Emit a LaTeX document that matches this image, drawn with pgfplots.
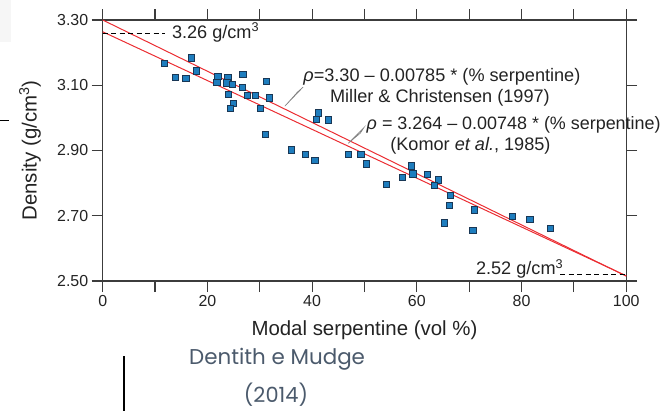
\documentclass[border=0pt]{standalone}
\usepackage{fontspec}
\setmainfont{Liberation Sans}
\newfontfamily\popfont{Poppins}
\usepackage{pgfplots}
\pgfplotsset{compat=1.18}
\definecolor{txt}{RGB}{35,35,35}
\definecolor{axgray}{RGB}{60,60,60}
\definecolor{ptfill}{RGB}{30,125,190}
\definecolor{ptedge}{RGB}{25,55,85}
\definecolor{redl}{RGB}{235,45,50}
\definecolor{slate}{RGB}{75,90,108}
\begin{document}
\begin{tikzpicture}
\begin{axis}[
  at={(102.7bp,-281bp)}, anchor=south west,
  scale only axis, width=523.5bp, height=261bp,
  xmin=0, xmax=100, ymin=2.5, ymax=3.3,
  xtick={0,10,20,30,40,50,60,70,80,90,100},
  xticklabels={0,,20,,40,,60,,80,,100},
  ytick={2.5,2.7,2.9,3.1,3.3},
  tick align=outside, major tick length=11bp,
  yticklabel style={/pgf/number format/.cd,fixed,fixed zerofill,precision=2},
  /pgf/number format/assume math mode=true,
  axis line style={draw=axgray, line width=1.2bp},
  every tick/.style={draw=axgray, line width=1.2bp},
  ticklabel style={font=\fontsize{16}{18}\selectfont, text=txt},
  xlabel={Modal serpentine (vol \%)},
  ylabel={Density (g/cm\textsuperscript{3})},
  label style={font=\fontsize{20.5}{23}\selectfont, text=txt},
  xlabel style={at={(axis description cs:0.5,-0.188)}, anchor=center},
  ylabel style={at={(axis description cs:-0.139,0.5)}, anchor=center},
  clip=false,
]
\addplot[draw=redl, line width=1bp] coordinates {(0,3.300) (100,2.515)};
\addplot[draw=redl, line width=1bp] coordinates {(0,3.264) (100,2.516)};
\addplot[draw=black, line width=1bp, dash pattern=on 5bp off 3.5bp] coordinates {(0,3.26) (11.9,3.26)};
\addplot[draw=black, line width=1bp, dash pattern=on 5bp off 3.5bp] coordinates {(87.4,2.52) (100,2.52)};
\addplot[only marks, mark=square*, mark size=3.1bp,
  mark options={fill=ptfill, draw=ptedge, line width=0.8bp}] table {
x y
11.84 3.167
16.92 3.184
13.91 3.124
15.91 3.122
17.88 3.144
22.02 3.127
21.83 3.109
23.90 3.123
23.74 3.107
24.70 3.102
26.80 3.134
26.70 3.094
23.94 3.073
24.89 3.045
24.32 3.028
27.70 3.069
29.19 3.070
31.33 3.111
31.82 3.061
30.05 3.028
31.06 2.950
35.97 2.902
38.70 2.889
40.55 2.869
41.13 3.015
40.84 2.996
43.04 2.994
46.99 2.887
49.34 2.889
50.30 2.859
54.12 2.797
57.23 2.817
59.03 2.853
59.27 2.828
62.08 2.826
64.15 2.810
63.38 2.792
66.48 2.762
66.21 2.731
65.20 2.678
70.93 2.718
70.70 2.656
78.19 2.697
81.62 2.688
85.45 2.662
};
\draw[gray, line width=0.6bp] (axis cs:38.3,3.0946) -- (axis cs:34.8,3.036) -- (axis cs:37.2,3.079) -- cycle;
\draw[gray, line width=0.6bp] (axis cs:49.9,2.970) -- (axis cs:46.9,2.922) -- (axis cs:49.2,2.953) -- cycle;
\node[anchor=west, text=txt, font=\fontsize{18.2}{20}\selectfont, inner sep=0pt] at (axis cs:38.3,3.125) {{\itshape ρ}=3.30 – 0.00785 * (\% serpentine)};
\node[anchor=west, text=txt, font=\fontsize{18.2}{20}\selectfont, inner sep=0pt] at (axis cs:43.4,3.061) {Miller \& Christensen (1997)};
\node[anchor=west, text=txt, font=\fontsize{18}{20}\selectfont, inner sep=0pt] at (axis cs:50.4,2.978) {{\itshape ρ} = 3.264 – 0.00748 * (\% serpentine)};
\node[anchor=west, text=txt, font=\fontsize{18.2}{20}\selectfont, inner sep=0pt] at (axis cs:54.9,2.914) {(Komor {\itshape et al.}, 1985)};
\node[anchor=west, text=txt, font=\fontsize{18.2}{20}\selectfont, inner sep=0pt] at (axis cs:13.2,3.262) {3.26 g/cm\textsuperscript{3}};
\node[anchor=east, text=txt, font=\fontsize{18.2}{20}\selectfont, inner sep=0pt] at (axis cs:88.0,2.536) {2.52 g/cm\textsuperscript{3}};
\end{axis}
\fill[gray!7] (0,0) rectangle (11bp,-42bp);
\draw[line width=1bp] (0,-120bp) -- (9bp,-120bp);
\draw[line width=1.3bp] (124bp,-356bp) -- (124bp,-411bp);
\node[anchor=west, inner sep=0pt, text=slate, font=\popfont\fontsize{21.5}{24}\selectfont] at (189bp,-359bp) {Dentith e Mudge};
\node[anchor=center, inner sep=0pt, text=slate, font=\popfont\fontsize{21}{24}\selectfont] at (276bp,-395bp) {(2014)};
\pgfresetboundingbox
\path (0,0) rectangle (663bp,-411bp);
\end{tikzpicture}
\end{document}
